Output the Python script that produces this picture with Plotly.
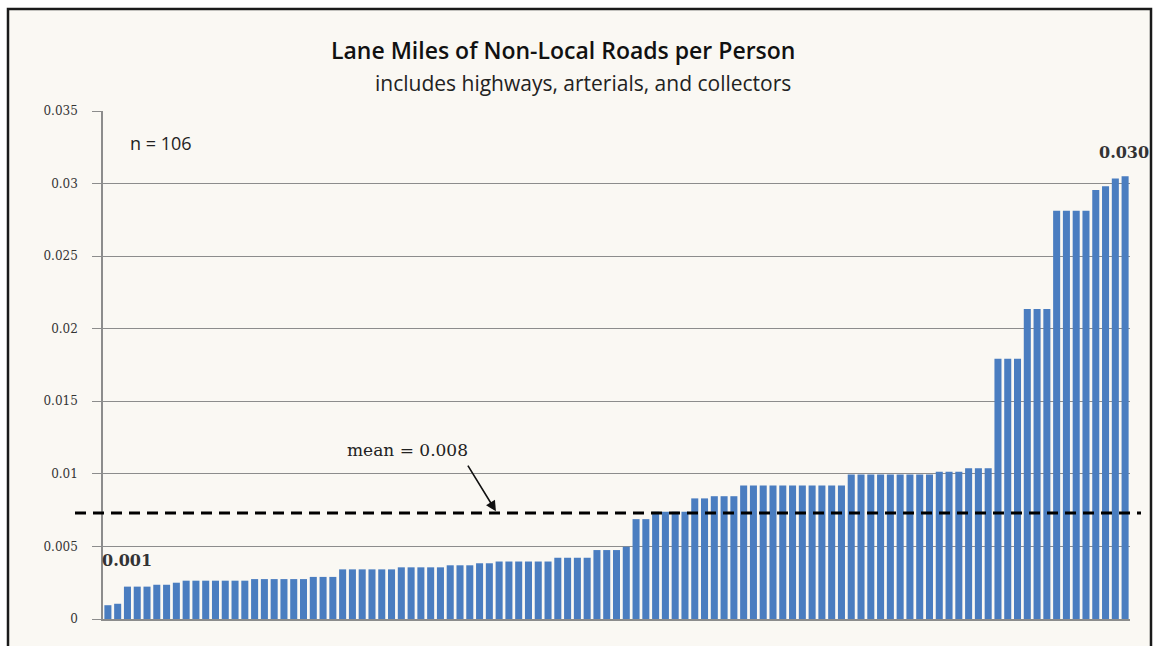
import plotly.graph_objects as go

# ---------------- data (sorted ascending) ----------------
lane_miles_per_person = (
    [0.00095, 0.00105]
    + [0.00223] * 3
    + [0.00236] * 2
    + [0.00250]
    + [0.00264] * 7
    + [0.00275] * 6
    + [0.00290] * 3
    + [0.00342] * 6
    + [0.00356] * 5
    + [0.00370] * 3
    + [0.00384] * 2
    + [0.00396] * 6
    + [0.00422] * 4
    + [0.00475] * 3
    + [0.00498]
    + [0.00688] * 2
    + [0.00739] * 4
    + [0.00831] * 2
    + [0.00846] * 3
    + [0.00919] * 11
    + [0.00996] * 9
    + [0.01015] * 3
    + [0.01038] * 3
    + [0.01793] * 3
    + [0.02135] * 3
    + [0.02812] * 4
    + [0.02955, 0.02982, 0.03035, 0.03051]
)
places = list(range(1, len(lane_miles_per_person) + 1))
mean_line_value = 0.0073
mean_label = "mean = 0.008"
n_label = "n = 106"
min_label = "0.001"
max_label = "0.030"
y_tick_vals = [0, 0.005, 0.01, 0.015, 0.02, 0.025, 0.03, 0.035]
y_tick_text = ["0", "0.005", "0.01", "0.015", "0.02", "0.025", "0.03", "0.035"]
title_text = "Lane Miles of Non-Local Roads per Person"
subtitle_text = "includes highways, arterials, and collectors"

# ---------------- layout geometry ----------------
W, H = 1156, 646
L, R, T, B = 103, 26, 111, 27
PW, PH = W - L - R, H - T - B


def px_x(p):
    return (p - L) / PW


def px_y(p):
    return (H - B - p) / PH


BAR_COLOR = "#4A7DC0"
GRID = "#8c8c8c"
BG = "#FAF8F3"

fig = go.Figure()
fig.add_trace(
    go.Bar(
        x=places,
        y=lane_miles_per_person,
        marker=dict(color=BAR_COLOR, line=dict(width=0)),
        hoverinfo="y",
    )
)

fig.update_layout(
    width=W,
    height=H,
    margin=dict(l=L, r=R, t=T, b=B, pad=0),
    paper_bgcolor="white",
    plot_bgcolor="rgba(0,0,0,0)",
    showlegend=False,
    bargap=0.28,
    xaxis=dict(
        range=[0.5, len(places) + 0.5],
        showticklabels=False,
        ticks="",
        showgrid=False,
        zeroline=False,
        showline=True,
        linecolor=GRID,
        linewidth=1.5,
    ),
    yaxis=dict(
        range=[0, 0.035],
        tickvals=y_tick_vals,
        ticktext=y_tick_text,
        ticks="outside",
        ticklen=9,
        tickcolor=GRID,
        tickwidth=1,
        ticklabelstandoff=12,
        showgrid=True,
        gridcolor=GRID,
        gridwidth=1,
        zeroline=False,
        showline=True,
        linecolor=GRID,
        linewidth=1.5,
        tickfont=dict(family="DejaVu Serif", size=12, color="#333333"),
    ),
)

# frame + background
fig.add_shape(
    type="rect",
    xref="paper", yref="paper",
    x0=px_x(8), x1=px_x(1151), y0=px_y(670), y1=px_y(9),
    fillcolor=BG,
    line=dict(color="#1a1a1a", width=2.5),
    layer="below",
)

# dashed mean line
fig.add_shape(
    type="line",
    xref="paper", yref="y",
    x0=px_x(75), x1=px_x(1141),
    y0=mean_line_value, y1=mean_line_value,
    line=dict(color="black", width=3, dash="11px,7px"),
    layer="above",
)

annos = [
    dict(text=title_text, x=px_x(563), y=px_y(50),
         font=dict(family="Open Sans", size=23, weight=600, color="#111111")),
    dict(text=subtitle_text, x=px_x(583), y=px_y(83),
         font=dict(family="Open Sans", size=21, color="#222222")),
    dict(text=n_label, x=px_x(128), y=px_y(143), xanchor="left",
         font=dict(family="Open Sans", size=18, color="#222222")),
    dict(text="<b>" + min_label + "</b>", x=px_x(100), y=px_y(560), xanchor="left",
         font=dict(family="DejaVu Serif", size=16, color="#333333")),
    dict(text="<b>" + max_label + "</b>", x=px_x(1151), y=px_y(153), xanchor="right",
         font=dict(family="DejaVu Serif", size=16, color="#333333")),
    dict(text=mean_label, x=px_x(407), y=px_y(450),
         font=dict(family="DejaVu Serif", size=17, color="#222222")),
]
for a in annos:
    a.setdefault("xanchor", "center")
    fig.add_annotation(xref="paper", yref="paper", showarrow=False,
                       yanchor="middle", **a)

# arrow pointing at the mean line
fig.add_annotation(
    x=40.78, y=mean_line_value, xref="x", yref="y",
    ax=-30, ay=-49, axref="pixel", ayref="pixel",
    text="", showarrow=True,
    arrowhead=2, arrowsize=1.3, arrowwidth=1.6, arrowcolor="#111111",
    standoff=2,
)

fig.write_html(
    "out.html",
    config={"displayModeBar": False},
    post_script="document.body.style.margin='0';document.body.style.padding='0';"
                "document.body.style.overflow='hidden';",
)
